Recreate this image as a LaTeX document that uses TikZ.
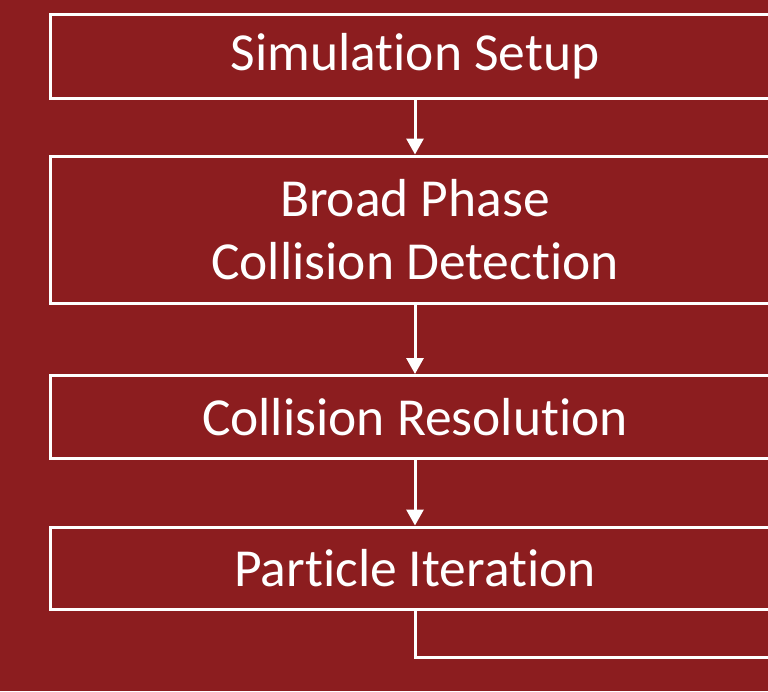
\documentclass[tikz,border=0pt]{standalone}
\usepackage{fontspec}
\setmainfont{Carlito}[Ligatures=NoCommon]
\usetikzlibrary{arrows.meta, positioning}
\definecolor{bgred}{HTML}{8C1D1F}

\begin{document}
\begin{tikzpicture}[
    x=1pt, y=-1pt,
    stage/.style={rectangle, draw=white, line width=3pt, text=white, minimum width=729pt, align=center, font=\fontsize{53.5}{63}\selectfont, inner sep=0pt},
    arrow/.style={-{Triangle[width=17pt,length=16pt]}, draw=white, line width=3pt}
]
    \fill[bgred] (0,0) rectangle (768,691);
    \useasboundingbox (0,0) rectangle (768,691);
    \clip (0,0) rectangle (768,691);

    \node[stage, minimum height=84pt] (setup) at (415,56) {Simulation Setup};
    \node[stage, minimum height=147pt] (broad) at (415,229.5) {Broad Phase\\Collision Detection};
    \node[stage, minimum height=83pt] (resolve) at (415,417) {Collision Resolution};
    \node[stage, minimum height=82pt] (iter) at (415,568) {Particle Iteration};
    \coordinate (loop) at (800,657);

    \draw[arrow] (setup) -- (broad);
    \draw[arrow] (broad) -- (resolve);
    \draw[arrow] (resolve) -- (iter);
    \draw[white, line width=3pt] (iter.south) |- (loop);
\end{tikzpicture}
\end{document}
